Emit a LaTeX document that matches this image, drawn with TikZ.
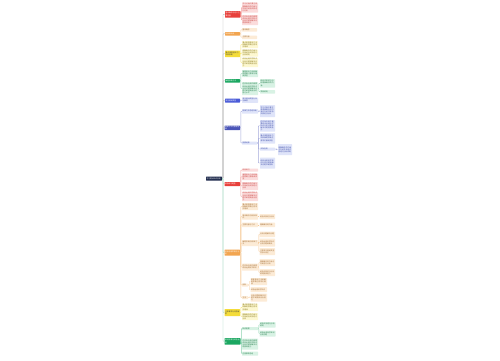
\documentclass[tikz,border=0pt]{standalone}
\usepackage{fontspec}
\newfontfamily\cjk{Noto Sans CJK SC}
\XeTeXlinebreaklocale "zh"
\XeTeXlinebreakskip=0pt plus 0.5pt
\definecolor{navy}{HTML}{1F2B4D}
\definecolor{redM}{HTML}{E8413C}
\definecolor{pinkF}{HTML}{FBDCDC}
\definecolor{redT}{HTML}{C8403C}
\definecolor{oraM}{HTML}{F2A550}
\definecolor{creamF}{HTML}{FCEBD6}
\definecolor{oraT}{HTML}{A06A30}
\definecolor{yelM}{HTML}{F4DC3A}
\definecolor{yelF}{HTML}{FDF8D0}
\definecolor{yelT}{HTML}{857518}
\definecolor{grnM}{HTML}{1BA761}
\definecolor{grnF}{HTML}{D8F2E4}
\definecolor{grnT}{HTML}{1F7A48}
\definecolor{bluM}{HTML}{4A5BD8}
\definecolor{bluF}{HTML}{DFE4F9}
\definecolor{bluT}{HTML}{3A4AA8}
\definecolor{purM}{HTML}{4B55B8}
\newcommand\bx[7]{%
  \pgfmathsetmacro\bxw{#4-#2}\pgfmathsetmacro\bxh{#5-#3}\pgfmathsetmacro\bxtw{#4-#2-1.2}%
  \pgfmathsetmacro\bxcx{(#2+#4)/2}\pgfmathsetmacro\bxcy{(#3+#5)/2}%
  \node[#6, minimum width=\bxw pt, minimum height=\bxh pt, text width=\bxtw pt] (#1) at (\bxcx,\bxcy) {#7};}
\begin{document}
\begin{tikzpicture}[x=1pt,y=-1pt,
  base/.style={rectangle, rounded corners=0.5pt, inner xsep=0.6pt, inner ysep=0.3pt, font={\cjk\fontsize{1.75}{2.15}\selectfont}, align=left},
  rootbox/.style={base, fill=navy, text=white},
  redbr/.style={base, fill=redM, text=white},
  redch/.style={base, fill=pinkF, text=redT},
  orabr/.style={base, fill=oraM, text=white},
  orach/.style={base, fill=creamF, text=oraT},
  yelbr/.style={base, fill=yelM, text=black!75},
  yelch/.style={base, fill=yelF, text=yelT},
  grnbr/.style={base, fill=grnM, text=white},
  grnch/.style={base, fill=grnF, text=grnT},
  blubr/.style={base, fill=bluM, text=white},
  purbr/.style={base, fill=purM, text=white},
  bluch/.style={base, fill=bluF, text=bluT},
  cl/.style={draw=#1, line width=0.4pt, rounded corners=0.6pt}]
\fill[white] (0,0) rectangle (500,360);
\path[use as bounding box] (0,0) rectangle (500,360);

% root
\bx{root}{206}{176.5}{222}{180.5}{rootbox}{学习要点知识总结}

% level 1
\bx{R1}{225}{11}{240.5}{17.5}{redbr}{基本概念与定义主要内容}
\bx{O1}{225}{32}{240}{35.5}{orabr}{相关知识点}
\bx{Y1}{225}{50.5}{240}{57}{yelbr}{重点掌握基本方法和思路}
\bx{G1}{225}{79}{240}{82.5}{grnbr}{解题思路方法}
\bx{B1}{225}{98.5}{240}{102.5}{blubr}{常见错误类型}
\bx{P1}{224.5}{125.5}{240}{130}{purbr}{规律方法与拓展延伸}
\bx{R2}{224.5}{182}{240}{186}{redbr}{综合练习题型}
\bx{O2}{224.5}{249.5}{240}{255.5}{orabr}{实际应用举例与分析}
\bx{Y2}{224.5}{309}{240}{316}{yelbr}{注意事项与问题解答}
\bx{G2}{224.5}{338}{240.5}{344.5}{grnbr}{知识拓展与综合运用}

% red 1
\bx{r1a}{242}{2.5}{258}{12.5}{redch}{学习过程中要注意理解概念的内涵与外延并结合实例进行分析}
\bx{r1b}{242}{15}{258}{25}{redch}{在实际应用中需要综合运用所学知识分析问题和解决问题提高能力}
% orange 1
\bx{o1a}{242}{28}{257}{31.5}{orach}{基本概念}
\bx{o1b}{242}{35.5}{257}{39}{orach}{主要内容}
% yellow 1
\bx{y1a}{242}{41}{258}{48}{yelch}{重点掌握基本方法和解题思路注意常见错误}
\bx{y1b}{242}{49.5}{258}{56.5}{yelch}{理解概念的内涵与外延结合实例进行分析说明}
\bx{y1c}{242}{58}{258}{67}{yelch}{综合运用所学知识分析问题和解决问题不断提高自身能力}
% green 1
\bx{g1a}{242}{70}{258}{77}{grnch}{掌握基本方法和解题思路注意常见错误类型}
\bx{g1b}{242}{82}{258}{95}{grnch}{在实际应用中需要综合运用所学知识分析问题和解决问题不断提高自身的能力水平}
\bx{g1b1}{260}{79}{275}{87.5}{grnch}{结合实例进行分析理解概念的内涵}
\bx{g1b2}{260}{90}{275}{93.5}{grnch}{举例说明}
% blue 1
\bx{b1a}{242}{97.5}{258}{102.8}{bluch}{常见错误类型分析与解答}
% purple
\bx{p1a}{242}{109}{258}{113.5}{bluch}{规律方法总结归纳}
\bx{p1a1}{260}{105}{275}{117}{bluch}{学习过程中要注意理解概念的内涵与外延并结合实例进行分析}
\bx{p1b}{242}{141.5}{257}{144.5}{bluch}{拓展延伸}
\bx{p1b1}{260}{120}{275}{131.5}{bluch}{在实际应用中需要综合运用所学知识分析问题和解决问题提高能力}
\bx{p1b2}{260}{133}{275}{143.5}{bluch}{重点掌握基本方法和解题思路注意常见错误类型}
\bx{p1b3}{260}{147.5}{275}{150.5}{bluch}{实际应用}
\bx{p1b3a}{278}{144}{292}{155}{bluch}{理解概念的内涵与外延并结合实例进行分析说明}
\bx{p1b4}{260}{157.5}{275}{168.5}{bluch}{综合运用所学知识分析问题和解决问题不断提高}
% red 2
\bx{r2a}{242}{168.5}{258}{171.5}{redch}{综合练习}
\bx{r2b}{242}{173.5}{258}{180}{redch}{掌握基本方法和解题思路注意错误类型}
\bx{r2c}{242}{182}{258}{190}{redch}{理解概念的内涵与外延结合实例进行分析}
\bx{r2d}{242}{192}{258}{201}{redch}{综合运用所学知识分析问题和解决问题不断提高自身能力}
% orange 2
\bx{o2a}{242}{203}{258}{210}{orach}{重点掌握基本方法和解题思路注意常见错误}
\bx{o2b}{242}{213.5}{258}{219.5}{orach}{基本概念与相关知识}
\bx{o2b1}{259.5}{214}{275}{219}{orach}{结合实例进行分析}
\bx{o2c}{242}{222.5}{258}{227}{orach}{主要内容与方法}
\bx{o2c1}{259.5}{222.5}{275}{227}{orach}{理解概念的内涵}
\bx{o2d}{242}{240}{258}{246}{orach}{解题思路与规律方法}
\bx{o2d1}{259.5}{231.5}{275}{237}{orach}{分析问题解决问题}
\bx{o2d2}{259.5}{238.5}{275}{246.5}{orach}{综合运用所学知识分析问题和解决}
\bx{o2d3}{259.5}{248}{275}{255}{orach}{注意常见错误类型并加以改正}
\bx{o2e}{242}{263.5}{258}{270.5}{orach}{在实际应用中需要综合运用所学知识}
\bx{o2e1}{259.5}{259}{275}{266}{orach}{理解概念的内涵与外延进行分析}
\bx{o2e2}{259.5}{269}{275}{276}{orach}{结合实例进行分析说明提高能力}
\bx{o2f}{242}{283.5}{248}{286.5}{orach}{例如}
\bx{o2f1}{250.5}{278}{267}{285}{orach}{掌握基本方法和解题思路注意常见错误}
\bx{o2f2}{250.5}{287}{267}{292}{orach}{综合运用所学知识}
\bx{o2g}{242}{296}{248}{299}{orach}{方法}
\bx{o2g1}{250.5}{293.5}{267}{301.5}{orach}{分析问题和解决问题不断提高自身能力}
% yellow 2
\bx{y2a}{242}{303.5}{258}{311}{yelch}{重点掌握基本方法和解题思路注意常见错误}
\bx{y2b}{242}{313}{258}{320}{yelch}{理解概念的内涵与外延结合实例进行分析}
% green 2
\bx{g2a}{242}{327}{258}{330}{grnch}{知识拓展}
\bx{g2a1}{259.5}{322}{275.5}{327.5}{grnch}{结合实例进行分析说明}
\bx{g2a2}{259.5}{330.5}{275.5}{336.5}{grnch}{综合运用所学知识分析问题}
\bx{g2b}{242}{338.5}{258}{349.5}{grnch}{在实际应用中需要综合运用所学知识分析问题和解决问题提高能力}
\bx{g2c}{242}{351.5}{258}{355.5}{grnch}{注意事项总结}

% root connectors
\foreach \b in {R1,O1,Y1,G1,B1,P1}
  \draw[cl=black!30] (root.east) -- ++(0.8,0) |- (\b.west);
\foreach \b in {R2,O2,Y2,G2}
  \draw[cl=grnM!45] (root.east) -- ++(0.8,0) |- (\b.west);

% branch connectors
\foreach \c in {r1a,r1b} \draw[cl=redM!50] (R1.east) -- ++(0.7,0) |- (\c.west);
\foreach \c in {o1a,o1b} \draw[cl=oraM!55] (O1.east) -- ++(0.7,0) |- (\c.west);
\foreach \c in {y1a,y1b,y1c} \draw[cl=yelM!75] (Y1.east) -- ++(0.7,0) |- (\c.west);
\foreach \c in {g1a,g1b} \draw[cl=grnM!50] (G1.east) -- ++(0.7,0) |- (\c.west);
\foreach \c in {g1b1,g1b2} \draw[cl=grnM!50] (g1b.east) -- ++(0.7,0) |- (\c.west);
\draw[cl=bluM!50] (B1.east) -- (b1a.west);
\foreach \c in {p1a,p1b} \draw[cl=purM!50] (P1.east) -- ++(0.7,0) |- (\c.west);
\draw[cl=purM!50] (p1a.east) -- ++(0.7,0) |- (p1a1.west);
\foreach \c in {p1b1,p1b2,p1b3,p1b4} \draw[cl=purM!50] (p1b.east) -- ++(1.2,0) |- (\c.west);
\draw[cl=purM!50] (p1b3.east) -- ++(1,0) |- (p1b3a.west);
\foreach \c in {r2a,r2b,r2c,r2d} \draw[cl=redM!50] (R2.east) -- ++(0.7,0) |- (\c.west);
\foreach \c in {o2a,o2b,o2c,o2d,o2e,o2f,o2g} \draw[cl=oraM!60] (O2.east) -- ++(0.7,0) |- (\c.west);
\draw[cl=oraM!60] (o2b.east) -- (o2b1.west);
\draw[cl=oraM!60] (o2c.east) -- (o2c1.west);
\foreach \c in {o2d1,o2d2,o2d3} \draw[cl=oraM!60] (o2d.east) -- ++(0.6,0) |- (\c.west);
\foreach \c in {o2e1,o2e2} \draw[cl=oraM!60] (o2e.east) -- ++(0.6,0) |- (\c.west);
\foreach \c in {o2f1,o2f2} \draw[cl=oraM!60] (o2f.east) -- ++(1,0) |- (\c.west);
\draw[cl=oraM!60] (o2g.east) -- ++(1,0) |- (o2g1.west);
\foreach \c in {y2a,y2b} \draw[cl=yelM!75] (Y2.east) -- ++(0.7,0) |- (\c.west);
\foreach \c in {g2a,g2b,g2c} \draw[cl=grnM!50] (G2.east) -- ++(0.7,0) |- (\c.west);
\foreach \c in {g2a1,g2a2} \draw[cl=grnM!50] (g2a.east) -- ++(0.6,0) |- (\c.west);
\end{tikzpicture}
\end{document}
